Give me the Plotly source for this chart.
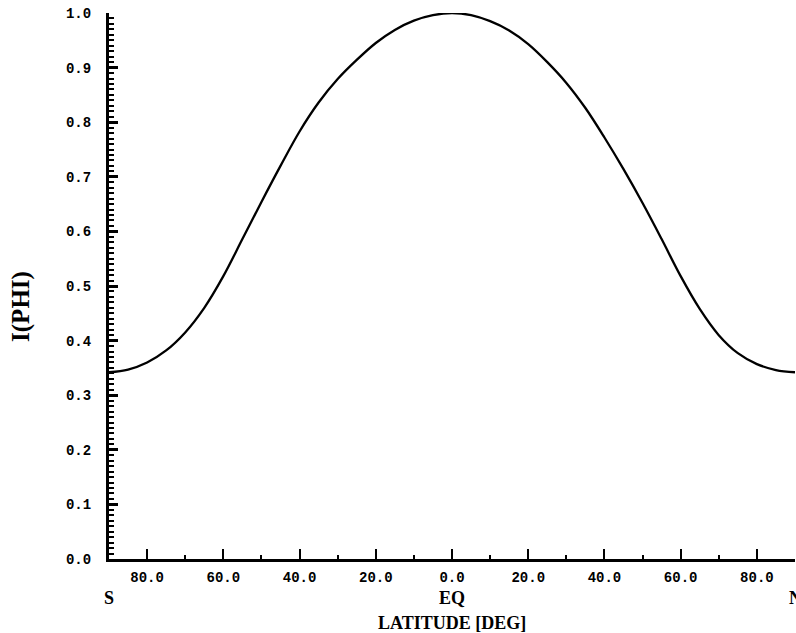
import plotly.graph_objects as go

# Latitude (deg, S negative) and I(PHI)
lat = [-90, -85, -80, -75, -70, -65, -60, -55, -50, -45, -40, -35, -30, -25, -20, -15, -10, -5, 0,
       5, 10, 15, 20, 25, 30, 35, 40, 45, 50, 55, 60, 65, 70, 75, 80, 85, 90]
iphi = [0.342, 0.347, 0.360, 0.382, 0.415, 0.460, 0.518, 0.586, 0.654, 0.720, 0.783, 0.836, 0.879, 0.914, 0.945, 0.969, 0.986, 0.996, 1.000,
        0.996, 0.985, 0.968, 0.943, 0.910, 0.872, 0.826, 0.772, 0.714, 0.652, 0.586, 0.518, 0.458, 0.410, 0.377, 0.357, 0.346, 0.342]

xtick_vals = [-80, -60, -40, -20, 0, 20, 40, 60, 80]
xtick_text = ["80.0", "60.0", "40.0", "20.0", "0.0", "20.0", "40.0", "60.0", "80.0"]

hem_labels = ["S", "EQ", "N"]
hem_pos = [-90, 0, 90]

tickfont = dict(family="Liberation Mono", size=14, color="black", weight="bold")
labfont = dict(family="Liberation Serif", size=18, color="black", weight="bold")

fig = go.Figure()
fig.add_trace(go.Scatter(x=lat, y=iphi, mode="lines",
                         line=dict(color="black", width=2.3, shape="spline", smoothing=1.0),
                         showlegend=False, hoverinfo="skip"))

x_minor = [v for v in range(-70, 80, 20)]

fig.update_xaxes(range=[-90, 90], showgrid=False, zeroline=False,
                 showline=True, linecolor="black", linewidth=3,
                 ticks="inside", ticklen=10, tickwidth=2, tickcolor="black",
                 tickvals=xtick_vals, ticktext=xtick_text, tickfont=tickfont,
                 ticklabelstandoff=3,
                 minor=dict(tickmode="array", tickvals=x_minor, ticks="inside",
                            ticklen=4, tickwidth=2, tickcolor="black"))
fig.update_yaxes(range=[0, 1.0], showgrid=False, zeroline=False,
                 showline=True, linecolor="black", linewidth=3,
                 ticks="inside", ticklen=9, tickwidth=2.5, tickcolor="black",
                 tickmode="linear", tick0=0, dtick=0.1, tickformat=".1f", tickfont=tickfont,
                 ticklabelstandoff=12,
                 minor=dict(tickmode="linear", tick0=0, dtick=0.01, ticks="inside",
                            ticklen=5, tickwidth=1.8, tickcolor="black", showgrid=False))

for t, p in zip(hem_labels, hem_pos):
    fig.add_annotation(x=p, y=-0.0714, xref="x", yref="paper", text=t, showarrow=False,
                       font=labfont, xanchor="center", yanchor="middle")
fig.add_annotation(x=0, y=-0.117, xref="x", yref="paper", text="LATITUDE [DEG]", showarrow=False,
                   font=labfont, xanchor="center", yanchor="middle")
fig.add_annotation(x=-0.128, y=0.462, xref="paper", yref="paper", text="I(PHI)", showarrow=False,
                   font=dict(family="Liberation Serif", size=25, color="black", weight="bold"),
                   textangle=-90, xanchor="center", yanchor="middle")

fig.update_layout(width=796, height=633, paper_bgcolor="white", plot_bgcolor="white",
                  margin=dict(l=109, r=1, t=13, b=74))

fig.write_html("out.html")
